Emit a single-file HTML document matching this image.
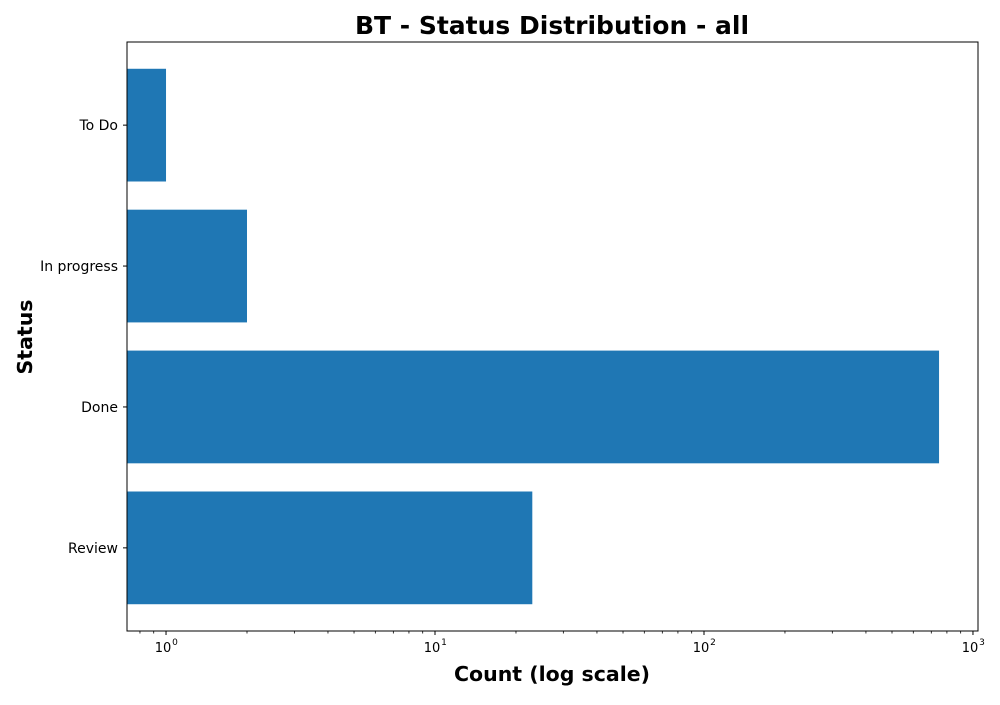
<!DOCTYPE html>
<html><head><meta charset="utf-8"><style>
body{margin:0;background:#fff;width:1000px;height:700px;overflow:hidden}
svg text{font-family:"DejaVu Sans","Liberation Sans",sans-serif}
</style></head><body>
<svg id="chart" width="1000" height="700">
<rect width="1000" height="700" fill="#fff"/>
<text x="552" y="34" text-anchor="middle" font-size="25" font-weight="bold">BT - Status Distribution - all</text>
<text x="552" y="681" text-anchor="middle" font-size="20.5" font-weight="bold">Count (log scale)</text>
<text transform="translate(32,337) rotate(-90)" text-anchor="middle" font-size="20.5" font-weight="bold">Status</text>
<g id="bars"></g>
<g id="axes"></g>
</svg>
<script>
const categories = ["To Do","In progress","Done","Review"];
const counts = [1,2,748,23];
const xTickExps = [0,1,2,3];

const L=127,R=978,T=42,B=631;
const xMin=0.716,xMax=1044;
const ns="http://www.w3.org/2000/svg";
function x(v){return L+(Math.log10(v)-Math.log10(xMin))/(Math.log10(xMax)-Math.log10(xMin))*(R-L);}
const n=categories.length;
const span=(n-1)+0.8;
const lo=-0.4-span*0.05, hi=(n-1)+0.4+span*0.05;
function yc(i){const v=(n-1-i);return B-(v-lo)/(hi-lo)*(B-T);}
const unit=(B-T)/(hi-lo);
function mk(tag,attrs,parent){const e=document.createElementNS(ns,tag);for(const k in attrs)e.setAttribute(k,attrs[k]);parent.appendChild(e);return e;}
const bars=document.getElementById('bars'),axes=document.getElementById('axes');
categories.forEach((c,i)=>{
  const h=unit*0.8;
  const r=mk('rect',{x:L,y:yc(i)-h/2,width:x(counts[i])-L,height:h,fill:'#1f77b4'},bars);
  
  
  mk('line',{x1:L-4,x2:L,y1:yc(i),y2:yc(i),stroke:'#000','stroke-width':1},axes);
  const t=mk('text',{x:L-9,y:yc(i)+5,'text-anchor':'end','font-size':14},axes);
  t.textContent=c;
  
  
});
for(let e=-1;e<=3;e++){for(let m=2;m<=9;m++){const v=m*Math.pow(10,e);if(v<xMin||v>xMax)continue;mk('line',{x1:x(v),x2:x(v),y1:B,y2:B+2.5,stroke:'#000','stroke-width':0.8},axes);}}
xTickExps.forEach(e=>{
  const px=x(Math.pow(10,e));
  mk('line',{x1:px,x2:px,y1:B,y2:B+4,stroke:'#000','stroke-width':1},axes);
  const t=mk('text',{x:px-3,y:B+21,'text-anchor':'middle','font-size':13},axes);
  t.textContent='10';
  
  
  const s=mk('text',{x:px+9,y:B+14,'text-anchor':'middle','font-size':9},axes);
  s.textContent=String(e);
  
  
});
const frame=mk('rect',{x:L,y:T,width:R-L,height:B-T,fill:'none',stroke:'#000','stroke-width':1},axes);


</script>
</body></html>
